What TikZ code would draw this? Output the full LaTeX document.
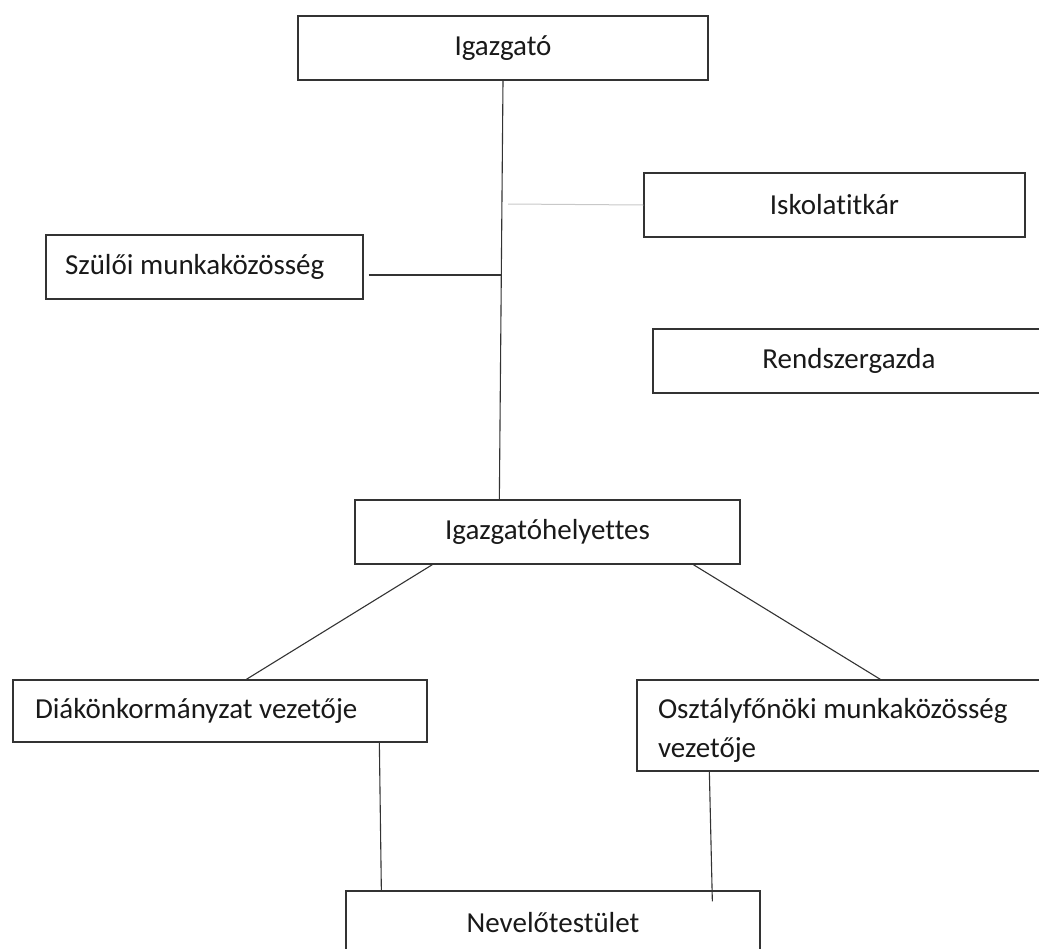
\documentclass[tikz,border=0pt]{standalone}
\usepackage{fontspec}
\setmainfont{Carlito}[Ligatures=NoCommon]
\usetikzlibrary{calc}
\definecolor{BoxGrey}{HTML}{333333}
\definecolor{PaleLine}{HTML}{C8C8C8}
\tikzset{
    block/.style = {draw=BoxGrey, rectangle, line width=1.3pt,
        inner sep=0pt, text=black!90,
        font=\fontsize{29}{39}\selectfont},
    leftblock/.style = {block, align=flush left},
    conn/.style = {draw=BoxGrey, line width=1.1pt},
    pale/.style = {draw=PaleLine, line width=1pt}
}
\begin{document}
\begin{tikzpicture}[x=1pt,y=-1pt]
    \useasboundingbox (0,0) rectangle (1039,948);
    % boxes
    \node[block, minimum width=410pt, minimum height=64pt] (igazgato) at (503,48) {Igazgató};
    \node[block, minimum width=381pt, minimum height=64pt] (iskola) at (834.5,205) {Iskolatitkár};
    \node[leftblock, inner xsep=19pt, text width=279pt, minimum height=64pt] (szuloi) at (204.5,267) {Szülői munkaközösség};
    \node[block, minimum width=392pt, minimum height=64pt] (rendszer) at (849,361) {Rendszergazda};
    \node[block, minimum width=385pt, minimum height=64pt] (helyettes) at (547.5,532) {Igazgatóhelyettes};
    \node[leftblock, inner xsep=22pt, text width=370pt, minimum height=62pt] (diak) at (220,711) {Diákönkormányzat vezetője};
    \node[leftblock, inner xsep=21pt, text width=366pt, minimum height=91pt] (osztaly) at (841,725.5) {\rule{0pt}{30pt}Osztályfőnöki munkaközösség\\vezetője};
    \node[block, minimum width=414pt, minimum height=64pt] (nevelo) at (553,923) {Nevelőtestület};
    % lines
    \coordinate (jszulo) at (502,275);
    \coordinate (jiskola) at (508,204);
    \draw[conn] (igazgato.south) -- ([xshift=145pt]helyettes.north west);
    \draw[conn] ([xshift=5pt,yshift=-8pt]szuloi.east) -- (jszulo);
    \draw[pale] (jiskola) -- (iskola.west);
    \draw[conn] ([xshift=78pt]helyettes.south west) -- ([xshift=234pt]diak.north west);
    \draw[conn] ([xshift=339pt]helyettes.south west) -- ([xshift=244pt]osztaly.north west);
    \draw[conn] ([xshift=367pt]diak.south west) -- ([xshift=36pt]nevelo.north west);
    \draw[conn] ([xshift=73pt]osztaly.south west) -- ([xshift=367pt,yshift=-11pt]nevelo.north west);
\end{tikzpicture}
\end{document}
